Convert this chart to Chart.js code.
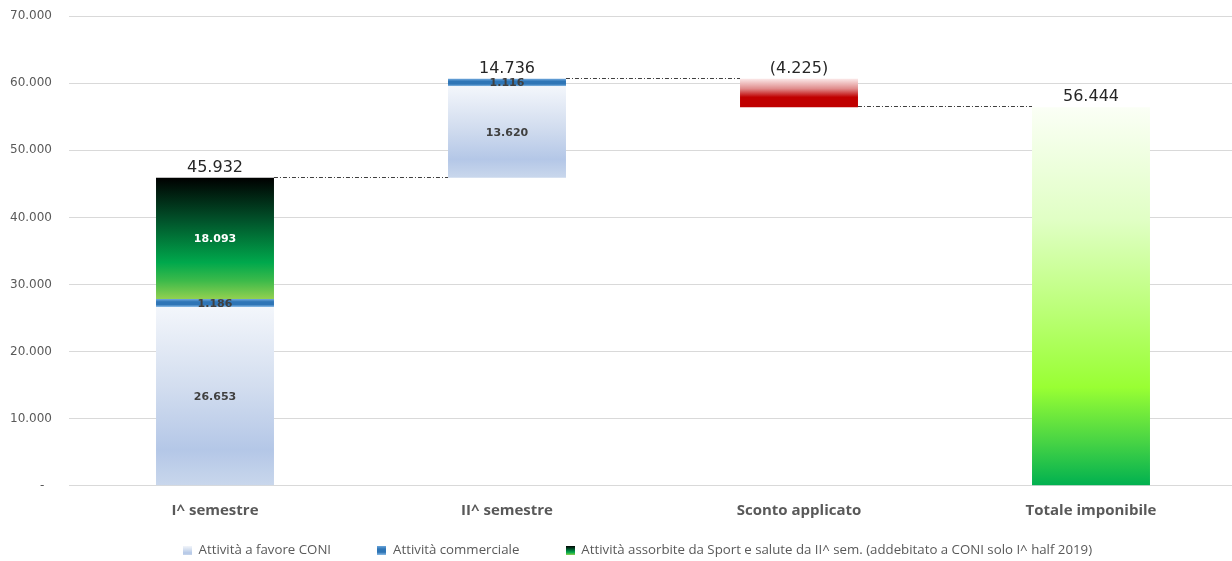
<!DOCTYPE html>
<html>
<head>
<meta charset="utf-8">
<script src="https://cdn.jsdelivr.net/npm/chart.js@4/dist/chart.umd.min.js"></script>
<style>
  html, body { margin: 0; padding: 0; background: #fff; }
  #wrap { width: 1232px; height: 561px; overflow: hidden; }
  #waterfallChart { display: block; margin-top: -8px; }
</style>
</head>
<body>
<div id="wrap"><canvas id="waterfallChart" width="1237" height="575"></canvas></div>
<script>
// dati
const categories = ['I^ semestre', 'II^ semestre', 'Sconto applicato', 'Totale imponibile'];
const baseValues = [null, 45932, 56444, null];          // parte invisibile (cascata)
const favoreValues = [26653, 13620, null, null];
const commercialeValues = [1186, 1116, null, null];
const assorbiteValues = [18093, null, null, null];
const scontoValues = [null, null, 4225, null];
const totaleValues = [null, null, null, 56444];
const topLabels = ['45.932', '14.736', '(4.225)', '56.444'];
const legendNames = [
  'Attività a favore CONI',
  'Attività commerciale',
  'Attività assorbite da Sport e salute da II^ sem. (addebitato a CONI solo I^ half 2019)'
];
const yTicks = [0, 10000, 20000, 30000, 40000, 50000, 60000, 70000];

// gradienti (dall'alto verso il basso della barra)
const favoreStops = [[0, '#f3f6fb'], [0.45, '#d2ddef'], [0.8, '#b4c7e7'], [1, '#c9d7ec']];
const commercialeStops = [[0, '#6fa8dc'], [0.35, '#2e75b6'], [0.7, '#2e75b6'], [1, '#8bbbe6']];
const assorbiteStops = [[0, '#000000'], [0.35, '#01522a'], [0.7, '#00a84c'], [0.85, '#3cba4a'], [1, '#92d050']];
const scontoStops = [[0, '#fbe8e8'], [0.35, '#e08c8c'], [0.65, '#c00000'], [1, '#c00000']];
const totaleStops = [[0, '#fbfff6'], [0.3, '#e0ffc4'], [0.55, '#b9ff73'], [0.74, '#99ff33'], [0.88, '#4ad544'], [1, '#00b050']];

const fmt = v => v.toString().replace(/\B(?=(\d{3})+(?!\d))/g, '.');

function barGradient(stops, dsIndex) {
  return (ctx) => {
    const chart = ctx.chart;
    if (!chart.chartArea || ctx.type !== 'data' || ctx.raw == null) return stops[stops.length - 1][1];
    const y = chart.scales.y;
    let bottom = 0;
    for (let k = 0; k < dsIndex; k++) bottom += chart.data.datasets[k].data[ctx.dataIndex] || 0;
    const top = bottom + ctx.raw;
    const g = chart.ctx.createLinearGradient(0, y.getPixelForValue(top), 0, y.getPixelForValue(bottom));
    stops.forEach(s => g.addColorStop(s[0], s[1]));
    return g;
  };
}

function legendSwatch(stops) {
  const c = document.createElement('canvas');
  c.width = 9; c.height = 9;
  const x = c.getContext('2d');
  const g = x.createLinearGradient(0, 0, 0, 9);
  stops.forEach(s => g.addColorStop(s[0], s[1]));
  x.fillStyle = g;
  x.fillRect(0, 0, 9, 9);
  return c;
}

// etichette dei valori e linee di collegamento
const waterfallPlugin = {
  id: 'waterfall',
  afterDatasetsDraw(chart) {
    const ctx = chart.ctx;
    const y = chart.scales.y;
    const n = categories.length;

    // totali cumulati per le linee tratteggiate
    const stackTop = [];
    for (let i = 0; i < n; i++) {
      let s = 0;
      chart.data.datasets.forEach(ds => { s += ds.data[i] || 0; });
      stackTop.push(s);
    }
    const levels = [stackTop[0], stackTop[1], baseValues[2]];
    const barOf = i => {
      for (let d = chart.data.datasets.length - 1; d >= 0; d--) {
        if (chart.data.datasets[d].data[i] != null) return chart.getDatasetMeta(d).data[i];
      }
    };

    ctx.save();
    ctx.strokeStyle = '#404040';
    ctx.lineWidth = 1;
    ctx.setLineDash([4, 2, 1, 2]);
    for (let i = 0; i < levels.length; i++) {
      const a = barOf(i), b = barOf(i + 1);
      const py = Math.round(y.getPixelForValue(levels[i])) - 0.5;
      ctx.beginPath();
      ctx.moveTo(a.x + a.width / 2, py);
      ctx.lineTo(b.x - b.width / 2, py);
      ctx.stroke();
    }
    ctx.setLineDash([]);

    // valori interni
    ctx.textAlign = 'center';
    ctx.textBaseline = 'middle';
    ctx.font = 'bold 11px "DejaVu Sans"';
    [1, 2, 3].forEach(d => {
      const ds = chart.data.datasets[d];
      chart.getDatasetMeta(d).data.forEach((el, i) => {
        if (ds.data[i] == null) return;
        ctx.fillStyle = d === 3 ? '#ffffff' : '#404040';
        ctx.fillText(fmt(ds.data[i]), el.x, (el.y + el.base) / 2 + 1);
      });
    });

    // valori sopra le barre
    ctx.font = '16px "DejaVu Sans"';
    ctx.fillStyle = '#262626';
    ctx.textBaseline = 'alphabetic';
    for (let i = 0; i < n; i++) {
      const el = barOf(i);
      ctx.fillText(topLabels[i], el.x, y.getPixelForValue(stackTop[i]) - 6);
    }
    ctx.restore();
  }
};

const swatches = [legendSwatch(favoreStops), legendSwatch(commercialeStops), legendSwatch(assorbiteStops)];
const gap = '\u00a0'.repeat(10);
const tail = '\u00a0'.repeat(9);

new Chart(document.getElementById('waterfallChart'), {
  type: 'bar',
  data: {
    labels: categories,
    datasets: [
      { label: 'base', data: baseValues, backgroundColor: 'rgba(0,0,0,0)' },
      { label: legendNames[0], data: favoreValues, backgroundColor: barGradient(favoreStops, 1) },
      { label: legendNames[1], data: commercialeValues, backgroundColor: barGradient(commercialeStops, 2) },
      { label: legendNames[2], data: assorbiteValues, backgroundColor: barGradient(assorbiteStops, 3) },
      { label: 'Sconto', data: scontoValues, backgroundColor: barGradient(scontoStops, 4) },
      { label: 'Totale', data: totaleValues, backgroundColor: barGradient(totaleStops, 5) }
    ]
  },
  options: {
    responsive: false,
    animation: false,
    events: [],
    datasets: { bar: { barPercentage: 0.404, categoryPercentage: 1, borderWidth: 0 } },
    layout: { padding: { top: 0, right: 0, left: 0, bottom: 0 } },
    scales: {
      x: {
        stacked: true,
        grid: { display: false, drawTicks: false },
        border: { display: false },
        ticks: { color: '#595959', font: { family: '"Open Sans"', size: 15, weight: 'bold' }, padding: 16 },
        afterFit: s => { s.height = 46; }
      },
      y: {
        stacked: true,
        min: 0,
        max: 70000,
        afterBuildTicks: s => { s.ticks = yTicks.map(v => ({ value: v })); },
        grid: { color: '#d9d9d9', drawTicks: false },
        border: { display: false },
        ticks: {
          color: '#595959',
          font: { family: '"DejaVu Sans"', size: 12 },
          padding: 17,
          callback: v => v === 0 ? '-  ' : fmt(v)
        },
        afterFit: s => { s.width = 69; }
      }
    },
    plugins: {
      tooltip: { enabled: false },
      legend: {
        position: 'bottom',
        fullSize: false,
        labels: {
          color: '#595959',
          font: { family: '"Open Sans"', size: 13.25 },
          padding: 12,
          boxWidth: 9,
          boxHeight: 9,
          usePointStyle: true,
          generateLabels: () => legendNames.map((t, i) => ({
            text: t + (i < 2 ? gap : tail),
            pointStyle: swatches[i], datasetIndex: i + 1, hidden: false, lineWidth: 0, fontColor: '#595959'
          }))
        }
      }
    }
  },
  plugins: [waterfallPlugin]
});
</script>
</body>
</html>
